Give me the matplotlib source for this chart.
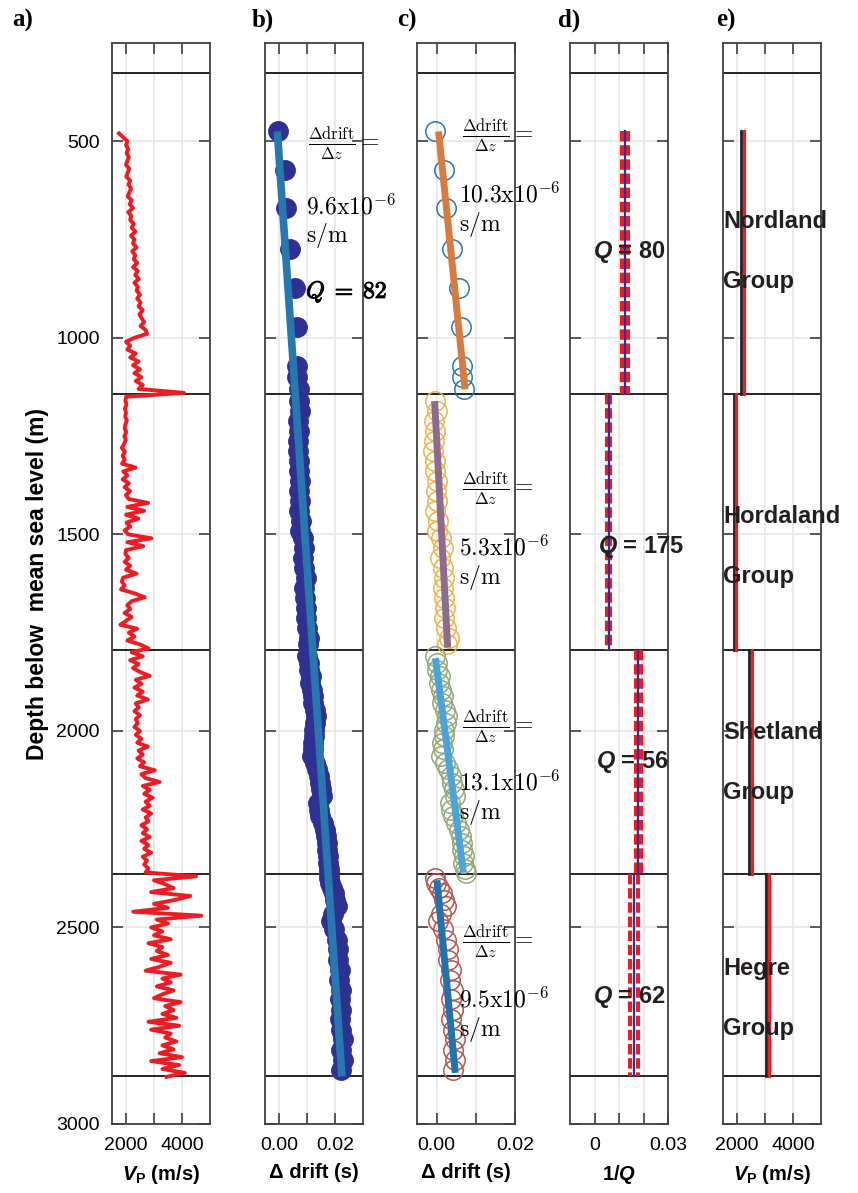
import numpy as np
import matplotlib
matplotlib.use("Agg")
import matplotlib.pyplot as plt
import matplotlib.patheffects as pe

plt.rcParams["font.family"] = ["Liberation Sans", "DejaVu Sans"]
plt.rcParams["mathtext.fontset"] = "custom"
plt.rcParams["mathtext.rm"] = "Liberation Sans:bold"
plt.rcParams["mathtext.it"] = "Liberation Sans:italic:bold"
plt.rcParams["mathtext.bf"] = "Liberation Sans:bold"

# formation tops / bases (m below MSL)
boundaries = [327, 1144, 1795, 2365, 2879]
groups = ["Nordland", "Hordaland", "Shetland", "Hegre"]
interval_top = [475, 1144, 1795, 2365]
interval_base = [1144, 1795, 2365, 2879]

# sonic log, sampled every 10 m from 480 m to 2880 m
log_depth = np.arange(480, 2890, 10)
log_vp = [
    1750, 1900, 2050, 2000, 2080, 2020, 2100, 2050, 2000, 2120,
    2060, 2010, 2150, 2090, 2180, 2120, 2060, 2200, 2130, 2250,
    2080, 2190, 2150, 2280, 2200, 2340, 2180, 2300, 2250, 2380,
    2220, 2330, 2280, 2400, 2250, 2420, 2330, 2460, 2300, 2420,
    2380, 2500, 2400, 2520, 2450, 2600, 2480, 2560, 2650, 2520,
    2700, 2750, 2300, 2000, 2150, 2050, 2350, 2150, 2450, 2250,
    2500, 2300, 2550, 2350, 2600, 2450, 4070,
    2000, 1980, 2020, 1960, 2000, 1970, 2030, 1980, 1950, 2010,
    1940, 1990, 1930, 1850, 1960, 1880, 1950, 1860, 2340, 1900,
    2050, 1880, 2100, 1950, 2150, 2000, 2100, 2790, 2050, 2650,
    2000, 2440, 2020, 2150, 1950, 2080, 2910, 2050, 2620, 2000,
    1980, 2100, 1950, 2150, 2000, 2380, 1900, 1850, 1950, 1820,
    2300, 2670, 2200, 2050, 2150, 1950, 2200, 2000, 1800, 2400,
    2100, 2300, 2050, 2500, 2800, 2200,
    2600, 2150, 2450, 2250, 2500, 2850, 2350, 2550, 2300, 2600,
    2400, 2780, 2350, 2450, 2300, 2500, 2350, 2420, 2300, 2500,
    2350, 2550, 2400, 2780, 2450, 2600, 2400, 2650, 2500, 3030,
    2550, 2700, 3200, 2600, 2850, 2650, 2950, 2700, 2850, 2600,
    2900, 2700, 2800, 2550, 2750, 2600, 2850, 2550, 2800, 2650,
    2900, 2600, 2750, 2650, 2800, 2700,
    4500, 3000, 3400, 3700, 2900, 4300, 3760, 3000, 3500, 2260,
    4690, 3100, 3500, 2900, 3300, 3000, 3600, 2800, 3300, 3100,
    3500, 2900, 3600, 3200, 2700, 3950, 3300, 3600, 3100, 3700,
    3300, 3000, 3950, 3400, 3700, 3300, 3800, 2800, 3900, 2900,
    3600, 3400, 3800, 3300, 3700, 3200, 4000, 2900, 3900, 3300,
    4100, 3450,
]

# drift relative to the top of each interval
nord_z = [475, 574, 670, 775, 874, 973, 1072, 1100, 1131]
nord_drift = [-0.0003, 0.0020, 0.0025, 0.0039, 0.0058, 0.0063, 0.0066, 0.0064, 0.0070]
hord_z = [1161, 1186, 1212, 1237, 1263, 1288, 1314, 1339, 1364, 1390, 1415, 1441, 1466,
          1492, 1509, 1534, 1560, 1585, 1610, 1636, 1661, 1687, 1712, 1738, 1763, 1780]
hord_drift = [-0.0004, 0.0000, -0.0006, -0.0003, -0.0006, -0.0008, -0.0005, -0.0005,
              0.0000, -0.0002, 0.0001, -0.0003, 0.0004, 0.0000, 0.0012, 0.0016, 0.0009,
              0.0016, 0.0020, 0.0016, 0.0018, 0.0022, 0.0020, 0.0024, 0.0031, 0.0027]
shet_z = [1810, 1827, 1844, 1861, 1878, 1895, 1912, 1929, 1946, 1963, 1980, 1997, 2014,
          2030, 2047, 2064, 2081, 2098, 2115, 2132, 2149, 2166, 2183, 2200, 2217, 2234,
          2251, 2268, 2285, 2302, 2319, 2336, 2352, 2361]
shet_drift = [-0.0005, 0.0000, 0.0002, 0.0008, 0.0006, 0.0012, 0.0016, 0.0014, 0.0022,
              0.0026, 0.0024, 0.0020, 0.0018, 0.0014, 0.0016, 0.0012, 0.0022, 0.0030,
              0.0036, 0.0040, 0.0044, 0.0046, 0.0034, 0.0036, 0.0042, 0.0050, 0.0058,
              0.0062, 0.0064, 0.0066, 0.0070, 0.0068, 0.0072, 0.0074]
hegr_z = [2374, 2387, 2399, 2412, 2429, 2446, 2467, 2484, 2505, 2531, 2556, 2582, 2607,
          2633, 2658, 2683, 2709, 2734, 2760, 2785, 2811, 2836, 2862]
hegr_drift = [-0.0005, -0.0001, 0.0006, 0.0014, 0.0018, 0.0024, 0.0012, 0.0004, 0.0016,
              0.0024, 0.0028, 0.0028, 0.0037, 0.0033, 0.0041, 0.0037, 0.0041, 0.0037,
              0.0041, 0.0046, 0.0041, 0.0046, 0.0041]

# cumulative drift at the top of each interval
drift_offset = [0.0, 0.0075, 0.0106, 0.0182]

# linear fits: start depth, end depth, start drift, slope (s/m)
fit_z0 = [475, 1161, 1815, 2380]
fit_z1 = [1131, 1788, 2360, 2870]
fit_d0 = [0.0005, -0.0005, -0.0003, 0.0001]
slopes = [10.3e-6, 5.3e-6, 13.1e-6, 9.5e-6]
slope_labels = ["10.3", "5.3", "13.1", "9.5"]
total_z = [475, 2879]
total_d0 = -0.0006
total_slope = 9.6e-6
total_q = 82

q_values = [80, 175, 56, 62]
q_err = [0.0012, 0.0005, 0.0011, 0.0015]

vp_interval = [2155, 1880, 2445, 3040]
vp_log_mean = [2250, 1975, 2545, 3140]

circle_colors = ["#2878B5", "#EDB44A", "#93A97A", "#B3574F"]
line_colors = ["#D97B3F", "#8C6B8C", "#4BA3D8", "#2372AE"]

EDGE = "#404040"
GRID = "#E4E4E4"

fig = plt.figure(figsize=(8.58, 11.93), dpi=100)
lefts = [112, 265, 417, 570, 723]
axes = [fig.add_axes([l / 858, 1 - 1124 / 1193, 98 / 858, 1081 / 1193]) for l in lefts]

for ax in axes:
    ax.set_ylim(3000, 250)
    ax.set_yticks([500, 1000, 1500, 2000, 2500, 3000])
    ax.grid(True, color=GRID, lw=1.1)
    ax.set_axisbelow(True)
    ax.tick_params(direction="in", length=8, width=1.2, top=True, right=True,
                   color=EDGE, labelsize=14, pad=9)
    for s in ax.spines.values():
        s.set_color(EDGE)
        s.set_linewidth(1.3)
    for b in boundaries:
        ax.axhline(b, color="k", lw=1.2, zorder=1.5)
for ax in axes[1:]:
    ax.tick_params(labelleft=False)

xlab = dict(fontsize=14.5, fontweight="bold", labelpad=7)

# a) velocity log
ax = axes[0]
ax.plot(log_vp, log_depth, color="#ED1C24", lw=2.8, zorder=3)
ax.set_xlim(1500, 5000)
ax.set_xticks([2000, 3000, 4000])
ax.set_xticklabels(["2000", "", "4000"])
ax.set_ylabel("Depth below  mean sea level (m)", fontsize=16.5, fontweight="bold", labelpad=5)
ax.set_xlabel("$\\mathit{V}_\\mathbf{P}$ (m/s)", **xlab)

# b) cumulative drift with a single fit
ax = axes[1]
segs_z = [nord_z, hord_z, shet_z, hegr_z]
segs_d = [nord_drift, hord_drift, shet_drift, hegr_drift]
for z, d, off in zip(segs_z, segs_d, drift_offset):
    ax.plot(np.array(d) + off, z, "o", ms=14, color="#2E3192", mec="#2E3192", zorder=3)
zz = np.array(total_z)
ax.plot(total_d0 + total_slope * (zz - zz[0]), zz, color="#2878B0", lw=5.5,
        solid_capstyle="butt", zorder=4)
ax.set_xlim(-0.005, 0.03)
ax.set_xticks([0, 0.01, 0.02])
ax.set_xticklabels(["0.00", "", "0.02"])
ax.set_xlabel("Δ drift (s)", **xlab)
cm = dict(math_fontfamily="cm", va="center", ha="left", clip_on=False, zorder=5)
ax.text(0.0104, 508, r"$\frac{\Delta\mathrm{drift}}{\Delta z} =$", fontsize=17, **cm)
ax.text(0.0097, 668, r"$%.1f\mathrm{x}10^{-6}$" % (total_slope * 1e6), fontsize=17, **cm)
ax.text(0.0097, 739, r"$\mathrm{s/m}$", fontsize=17, **cm)
ax.text(0.0097, 882, r"$Q\;=\;%d$" % total_q, fontsize=17,
        path_effects=[pe.withStroke(linewidth=0.8, foreground="k")], **cm)

# c) drift per interval with separate fits
ax = axes[2]
txt_y = [(487, 635, 711), (1385, 1533, 1609), (1991, 2131, 2207), (2538, 2683, 2760)]
for i in range(4):
    ax.plot(segs_d[i], segs_z[i], "o", ms=14, mfc="none", mec=circle_colors[i],
            mew=1.1, zorder=3)
    z = np.array([fit_z0[i], fit_z1[i]])
    ax.plot(fit_d0[i] + slopes[i] * (z - z[0]), z, color=line_colors[i], lw=5,
            solid_capstyle="butt", zorder=4)
    y0, y1, y2 = txt_y[i]
    ax.text(0.0065, y0, r"$\frac{\Delta\mathrm{drift}}{\Delta z} =$", fontsize=17, **cm)
    ax.text(0.0058, y1, r"$%s\mathrm{x}10^{-6}$" % slope_labels[i], fontsize=17, **cm)
    ax.text(0.0058, y2, r"$\mathrm{s/m}$", fontsize=17, **cm)
ax.set_xlim(-0.005, 0.02)
ax.set_xticks([0, 0.01, 0.02])
ax.set_xticklabels(["0.00", "", "0.02"])
ax.set_xlabel("Δ drift (s)", **xlab)

# d) attenuation per interval
ax = axes[3]
q_txt = [(-0.0008, 782), (0.0016, 1533), (0.0008, 2080), (-0.0008, 2678)]
for i, q in enumerate(q_values):
    z = [interval_top[i], interval_base[i]]
    inv = 1.0 / q
    for sgn in (-1, 1):
        ax.plot([inv + sgn * q_err[i]] * 2, z, color="#ED1C24", lw=3,
                ls=(0, (2.5, 0.9)), zorder=3)
    ax.plot([inv, inv], z, color="#2E3192", lw=1.6, zorder=4)
    tx, ty = q_txt[i]
    ax.text(tx, ty, "$\\mathit{Q}$ = %d" % q, fontsize=17, fontweight="bold",
            va="center", ha="left", color="#231F20", zorder=5, clip_on=False)
ax.set_xlim(-0.01, 0.03)
ax.set_xticks([0, 0.01, 0.02, 0.03])
ax.set_xticklabels(["0", "", "", "0.03"])
ax.set_xlabel("1/$\\mathit{Q}$", **xlab)

# e) interval velocities
ax = axes[4]
grp_y = [(704, 856), (1454, 1607), (2004, 2156), (2604, 2757)]
for i in range(4):
    z = [interval_top[i], interval_base[i]]
    ax.plot([vp_interval[i]] * 2, z, color="#231F20", lw=2.0, zorder=3)
    ax.plot([vp_log_mean[i]] * 2, z, color="#ED1C24", lw=2.3, zorder=3.5)
    ya, yb = grp_y[i]
    ax.text(1500, ya, groups[i], fontsize=17, fontweight="bold", va="center",
            ha="left", color="#231F20", zorder=5, clip_on=False)
    ax.text(1500, yb, "Group", fontsize=17, fontweight="bold", va="center",
            ha="left", color="#231F20", zorder=5, clip_on=False)
ax.set_xlim(1500, 5000)
ax.set_xticks([2000, 3000, 4000])
ax.set_xticklabels(["2000", "", "4000"])
ax.set_xlabel("$\\mathit{V}_\\mathbf{P}$ (m/s)", **xlab)

for lab, x in zip("abcde", [12, 252, 397, 558, 716]):
    fig.text(x / 858, 1 - 20 / 1193, lab + ")", fontsize=18, fontweight="bold",
             family="Liberation Serif", va="center", ha="left")

fig.savefig("out.png", dpi=100)
